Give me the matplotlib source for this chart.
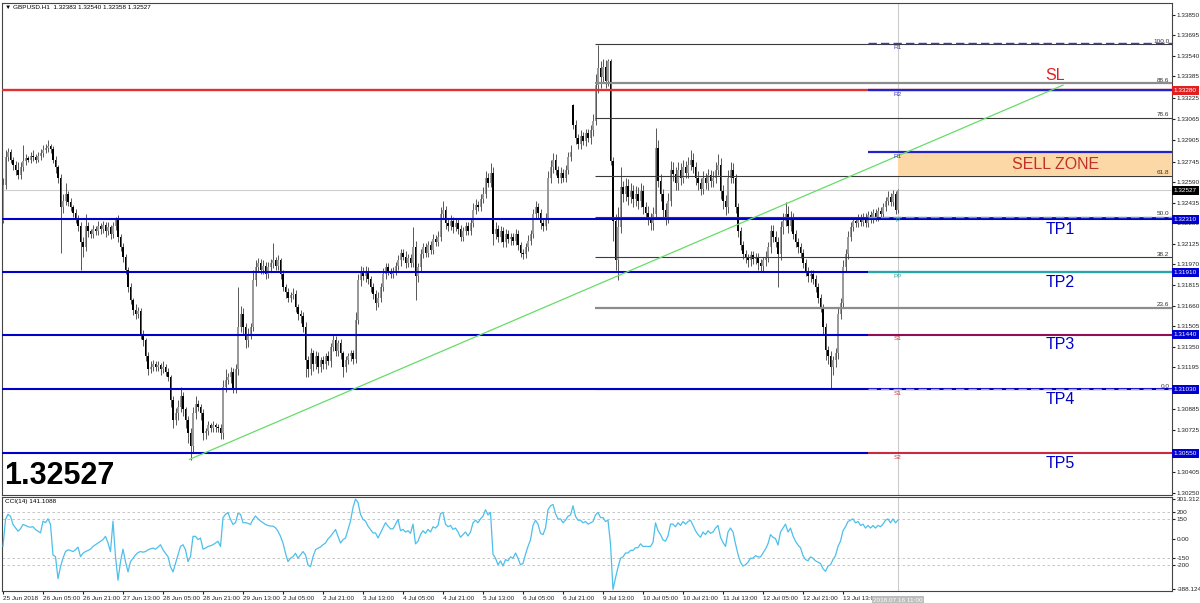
import matplotlib.pyplot as plt
import matplotlib.transforms as mtransforms
import numpy as np

plt.rcParams['font.family'] = ['Liberation Sans', 'DejaVu Sans']

# GBPUSD H1, bar 0 = 25 Jun 2018 00:00; prices in pips above 1.30000
close_pips = [
    257, 278, 282, 276, 272, 268, 264, 270, 275, 277, 276, 279, 278, 276, 279, 281, 283, 285, 286, 284,
    276, 270, 262, 240, 245, 250, 244, 240, 236, 232, 226, 214, 210, 226, 222, 220, 224, 222, 226, 224,
    227, 222, 225, 220, 226, 231, 218, 210, 203, 193, 180, 170, 163, 160, 162, 145, 140, 128, 118, 120,
    122, 120, 121, 118, 120, 116, 112, 95, 80, 85, 90, 98, 88, 80, 70, 60, 85, 92, 90, 85,
    70, 72, 76, 74, 76, 75, 74, 70, 105, 110, 112, 116, 104, 118, 150, 160, 150, 140, 145, 150,
    185, 195, 198, 193, 196, 190, 195, 198, 200, 196, 200, 190, 180, 176, 172, 174, 175, 165, 160, 158,
    150, 125, 118, 130, 122, 128, 120, 125, 122, 128, 124, 135, 140, 132, 138, 130, 120, 125, 128, 130,
    126, 155, 185, 192, 188, 192, 186, 180, 175, 168, 172, 180, 190, 195, 192, 190, 192, 196, 200, 206,
    203, 198, 202, 198, 210, 188, 195, 205, 210, 206, 212, 208, 216, 214, 218, 235, 238, 228, 226, 230,
    225, 228, 224, 218, 222, 226, 222, 228, 238, 242, 240, 246, 250, 262, 258, 266, 220, 224, 218, 222,
    214, 220, 216, 218, 215, 220, 212, 206, 205, 210, 215, 220, 235, 240, 236, 228, 226, 232, 262, 270,
    276, 268, 262, 266, 262, 268, 278, 282, 302, 292, 288, 294, 290, 296, 292, 298, 305, 332, 345, 338,
    346, 335, 350, 275, 230, 200, 225, 255, 250, 256, 248, 252, 246, 250, 245, 252, 240, 236, 232, 228,
    235, 285, 260, 250, 238, 232, 245, 268, 265, 258, 268, 262, 270, 266, 272, 276, 270, 262, 258, 254,
    262, 258, 264, 260, 262, 268, 272, 252, 245, 240, 262, 268, 262, 240, 222, 212, 205, 202, 200, 204,
    201, 203, 198, 196, 200, 203, 210, 222, 218, 214, 205, 225, 230, 235, 226, 232, 220, 214, 210, 206,
    198, 192, 188, 190, 186, 180, 172, 165, 150, 133, 128, 120, 125, 130, 160, 168, 195, 205, 218, 225,
    230, 228, 232, 229, 233, 228, 234, 231, 236, 233, 237, 235, 240, 245, 248, 244, 250, 238.3, 252.7,
]
upper_wick = [
    5, 5, 3, 2, 2, 3, 6, 4, 12, 3, 2, 3, 4, 2, 3, 3, 4, 3, 5, 2,
    2, 3, 2, 3, 5, 8, 2, 3, 2, 3, 2, 3, 4, 9, 3, 2, 3, 2, 4, 2,
    3, 2, 4, 2, 3, 2, 3, 2, 3, 2, 2, 3, 2, 4, 3, 2, 3, 2, 3, 4,
    3, 2, 3, 2, 4, 2, 3, 2, 3, 4, 5, 7, 3, 2, 3, 4, 5, 6, 3, 2,
    3, 2, 3, 2, 3, 2, 2, 3, 5, 8, 3, 4, 3, 4, 30, 6, 4, 3, 4, 3,
    8, 5, 4, 3, 4, 3, 4, 3, 13, 3, 4, 2, 3, 2, 3, 2, 4, 3, 2, 3,
    3, 4, 3, 4, 3, 4, 3, 2, 3, 2, 4, 3, 4, 3, 2, 3, 2, 3, 2, 3,
    3, 6, 5, 4, 3, 4, 3, 2, 3, 3, 4, 3, 4, 3, 3, 2, 3, 3, 4, 3,
    3, 4, 3, 3, 15, 5, 3, 4, 3, 3, 3, 3, 4, 3, 4, 5, 7, 3, 3, 4,
    3, 3, 3, 3, 3, 3, 3, 3, 5, 4, 3, 4, 5, 5, 4, 7, 4, 5, 3, 4,
    3, 4, 3, 3, 3, 4, 3, 2, 3, 3, 4, 3, 4, 5, 3, 3, 3, 4, 5, 6,
    5, 4, 3, 4, 3, 4, 4, 5, 1, 4, 3, 4, 3, 3, 3, 4, 5, 8, 17, 5,
    6, 5, 2, 2, 3, 5, 15, 15, 5, 6, 5, 6, 5, 6, 5, 6, 5, 4, 5, 4,
    5, 15, 6, 5, 4, 5, 6, 7, 6, 5, 6, 5, 6, 5, 6, 7, 5, 4, 5, 4,
    5, 4, 5, 4, 5, 6, 8, 5, 5, 4, 6, 6, 5, 3, 3, 3, 3, 3, 3, 3,
    3, 3, 3, 3, 3, 4, 4, 5, 5, 4, 4, 5, 6, 9, 6, 5, 4, 3, 3, 3,
    3, 3, 3, 3, 3, 3, 3, 3, 2, 3, 3, 4, 3, 4, 5, 4, 5, 4, 4, 4,
    3, 3, 3, 3, 3, 3, 3, 3, 3, 3, 3, 3, 3, 3, 4, 3, 3, 2, 1.3,
]
lower_wick = [
    2, 3, 3, 3, 4, 4, 3, 3, 3, 3, 2, 3, 3, 3, 2, 3, 3, 2, 3, 3,
    3, 4, 4, 34, 4, 3, 3, 3, 3, 4, 4, 21, 7, 3, 4, 3, 3, 3, 3, 4,
    3, 4, 3, 4, 3, 3, 4, 3, 4, 3, 4, 3, 4, 4, 3, 4, 4, 4, 4, 3,
    3, 3, 3, 4, 3, 3, 3, 5, 6, 4, 5, 4, 5, 6, 7, 10, 4, 4, 3, 5,
    5, 4, 3, 3, 3, 4, 3, 4, 4, 4, 3, 4, 4, 4, 4, 4, 5, 6, 5, 4,
    3, 4, 4, 3, 3, 4, 3, 3, 4, 3, 3, 4, 3, 4, 3, 3, 3, 4, 5, 5,
    4, 13, 6, 4, 5, 4, 5, 4, 4, 4, 3, 4, 3, 4, 4, 4, 8, 4, 3, 4,
    4, 3, 3, 4, 3, 4, 4, 4, 4, 5, 3, 3, 3, 4, 3, 3, 3, 3, 3, 4,
    3, 4, 3, 3, 3, 18, 4, 3, 3, 3, 3, 3, 3, 3, 3, 3, 3, 4, 4, 3,
    4, 3, 4, 3, 3, 3, 3, 3, 3, 3, 3, 3, 3, 3, 3, 3, 8, 4, 4, 4,
    4, 4, 3, 4, 3, 3, 4, 3, 4, 3, 3, 3, 3, 3, 4, 4, 4, 3, 4, 4,
    4, 4, 4, 4, 3, 3, 3, 3, 3, 4, 4, 4, 3, 4, 3, 4, 4, 3, 6, 8,
    4, 5, 4, 3, 15, 7, 15, 4, 6, 5, 6, 5, 6, 5, 6, 5, 5, 5, 5, 5,
    5, 4, 5, 5, 5, 5, 4, 4, 5, 5, 5, 5, 4, 4, 4, 4, 4, 5, 5, 5,
    4, 4, 5, 5, 5, 4, 4, 6, 6, 6, 4, 4, 4, 4, 4, 4, 4, 4, 5, 4,
    4, 4, 5, 4, 4, 4, 4, 4, 4, 4, 25, 5, 5, 4, 5, 4, 4, 4, 4, 4,
    4, 4, 4, 4, 4, 4, 4, 4, 5, 8, 6, 17, 6, 5, 4, 4, 4, 4, 4, 3,
    3, 3, 3, 3, 3, 3, 3, 3, 3, 3, 3, 3, 3, 3, 3, 3, 3, 3, 2.5,
]
first_open = 230
gap_open = {228: 317}  # Monday 9 Jul open after the weekend gap

cci = [
    -60, 146, 185, 170, 108, 82, 56, 74, 108, 100, 90, 87, 90, 69, 56, 43, 133, 121, 151, 108,
    -125, -138, -306, -215, -150, -99, -86, -91, -99, -86, -65, -138, -112, -99, -91, -81, -60, -47, -34, -21,
    -8, 17, -34, -99, 133, -138, -318, -176, -81, -176, -254, -176, -150, -125, -107, -99, -104, -99, -86, -78,
    -73, -81, -65, -47, -86, -112, -138, -215, -254, -189, -125, -60, -47, -86, -176, -138, 17, 17, -8, 4,
    -81, -73, -60, -55, -47, -34, -21, -60, 159, 185, 198, 146, 108, 121, 192, 185, 121, 121, 116, 108,
    146, 172, 151, 133, 121, 108, 100, 95, 95, 82, 56, 17, -34, -112, -176, -150, -138, -112, -150, -125,
    -99, -125, -202, -215, -138, -86, -73, -65, -47, -34, -3, 17, 43, 69, 17, -34, -8, 4, 69, 133,
    237, 301.3, 275, 185, 146, 133, 95, 69, 43, 43, 4, 43, 82, 121, 95, 74, 74, 108, 146, 60,
    70, 50, 60, 40, 110, -40, -20, 30, 60, 40, 70, 50, 90, 80, 100, 190, 200, 110, 90, 100,
    70, 80, 50, 10, 30, 50, 20, 50, 120, 140, 120, 150, 170, 220, 180, 200, -120, -150, -200, -170,
    -210, -160, -170, -140, -150, -110, -150, -200, -190, -120, -60, -10, 100, 140, 110, 40, 30, 80, 220, 250,
    260, 190, 150, 150, 120, 140, 170, 180, 250, 170, 140, 140, 120, 130, 110, 120, 130, 180, 200, 160,
    160, 130, 140, -40, -388.1, -300, -220, -150, -140, -110, -110, -90, -90, -70, -70, -40, -60, -60, -60, -60,
    -30, 120, 60, 30, -10, -20, 20, 110, 110, 90, 120, 100, 130, 110, 130, 140, 100, 60, 30, 10,
    50, 30, 60, 40, 50, 80, 100, 10, -30, -60, 50, 80, 50, -40, -120, -180, -210, -200, -180, -150,
    -150, -130, -140, -140, -110, -80, -40, 30, 10, 0, -50, 50, 80, 110, 50, 80, 20, -20, -50, -70,
    -130, -160, -170, -140, -150, -170, -180, -190, -230, -250, -210, -200, -160, -130, -60, -20, 60, 90, 130, 140,
    150, 120, 130, 100, 110, 80, 100, 80, 100, 80, 100, 90, 110, 140, 150, 120, 150, 120, 141.1,
]

time_labels = ['25 Jun 2018', '26 Jun 05:00', '26 Jun 21:00', '27 Jun 13:00', '28 Jun 05:00',
               '28 Jun 21:00', '29 Jun 13:00', '2 Jul 05:00', '2 Jul 21:00', '3 Jul 13:00',
               '4 Jul 05:00', '4 Jul 21:00', '5 Jul 13:00', '6 Jul 05:00', '6 Jul 21:00',
               '9 Jul 13:00', '10 Jul 05:00', '10 Jul 21:00', '11 Jul 13:00', '12 Jul 05:00',
               '12 Jul 21:00', '13 Jul 13:00']

price_ticks = [1.33850, 1.33695, 1.33540, 1.33385, 1.33225, 1.33065, 1.32905, 1.32745, 1.32590,
               1.32435, 1.32280, 1.32125, 1.31970, 1.31815, 1.31660, 1.31505, 1.31350, 1.31195,
               1.30885, 1.30725, 1.30405, 1.30250]

tp_names = ['TP1', 'TP2', 'TP3', 'TP4', 'TP5']
tp_levels = [1.32310, 1.31910, 1.31440, 1.31030, 1.30550]
sl_level = 1.33280
last_price = 1.32527

fib_high, fib_low = 1.33629, 1.31030
fib_ratios = [100.0, 88.6, 78.6, 61.8, 50.0, 38.2, 23.6, 0.0]

pivot_names = ['R1', 'R2', 'R1', 'P', 'PP', 'S1', 'S1', 'S2']
pivot_levels = [1.33637, 1.33280, 1.32816, 1.32330, 1.31910, 1.31440, 1.31030, 1.30550]

trend_bars = [74.6, 424.0]
trend_prices = [1.30503, 1.33320]

# ---- derived OHLC
n = len(close_pips)
c = 1.3 + np.array(close_pips, dtype=float) / 10000
o = np.empty(n)
o[0] = 1.3 + first_open / 10000
o[1:] = c[:-1]
for k, v in gap_open.items():
    o[k] = 1.3 + v / 10000
h = np.maximum(o, c) + np.array(upper_wick) / 10000
l = np.minimum(o, c) - np.array(lower_wick) / 10000
x = np.arange(n)

W, H = 1200, 603
FS = 4.6  # small MT4-like text
fig = plt.figure(figsize=(12, 6.03), dpi=100)


def px_axes(left, top, right, bottom):
    return fig.add_axes([left / W, 1 - bottom / H, (right - left) / W, (bottom - top) / H])


ax = px_axes(2, 3, 1172, 495)
ac = px_axes(2, 497, 1172, 591)
xmax = 467.6
for a in (ax, ac):
    a.set_xlim(-0.4, xmax)
    for s in a.spines.values():
        s.set_color('#444444')
        s.set_linewidth(0.8)
ax.set_ylim(1.302349, 1.33938)

# candles
ax.vlines(x, l, h, color='#3c3c3c', lw=0.6, zorder=2)
body = np.maximum(np.abs(c - o), 0.00002)
bull = c >= o
ax.bar(x[bull], body[bull], bottom=o[bull], width=0.7, color='#9a9a9a', lw=0, zorder=2)
ax.bar(x[~bull], body[~bull], bottom=c[~bull], width=0.7, color='#000000', lw=0, zorder=2)

# last price line and vertical line
ax.axhline(last_price, color='#cfcfcf', lw=0.8, zorder=1)
now_bar = n - 1
for a in (ax, ac):
    a.axvline(now_bar, color='#cccccc', lw=0.8, zorder=1)

# fibonacci retracement
fib_start = 236.8
for r in fib_ratios:
    lv = fib_low + (fib_high - fib_low) * r / 100
    thick = r in (88.6, 23.6)
    ax.hlines(lv, fib_start, xmax, color='#8c8c8c' if thick else '#3a3a3a',
              lw=1.6 if thick else 0.8, zorder=3)
    ax.text(xmax - 1, lv + 0.00004, f'{r:.1f}', fontsize=FS, ha='right', va='bottom',
            color='#333333', zorder=6)

# SL and TP lines
ax.axhline(sl_level, color='#e03030', lw=1.7, zorder=4)
for lv in tp_levels:
    ax.axhline(lv, color='#0000c8', lw=1.5, zorder=4)

# pivot lines from the pivot bar to the right edge
piv_start = 346
piv_styles = [
    dict(color='#3a3acc', lw=1.0, ls=(0, (6, 3))),
    dict(color='#2323c8', lw=1.6, ls='-'),
    dict(color='#2323c8', lw=1.6, ls='-'),
    dict(color='#6aaaaa', lw=1.0, ls=(0, (6, 3))),
    dict(color='#2aa6a6', lw=1.6, ls='-'),
    dict(color='#b01040', lw=1.2, ls='-'),
    dict(color='#c0a0d0', lw=1.0, ls=(0, (6, 3))),
    dict(color='#e03030', lw=1.3, ls='-'),
]
piv_colors = ['#3a3acc', '#3a3acc', '#3a3acc', '#2aa6a6', '#2aa6a6', '#e03030', '#e03030', '#e03030']
for name, lv, st, col in zip(pivot_names, pivot_levels, piv_styles, piv_colors):
    ax.hlines(lv, piv_start, xmax, zorder=5, **st)
    ax.text(now_bar, lv - 0.00012, name, fontsize=FS, color=col, ha='center', va='top', zorder=6)

# sell zone
r618 = fib_low + (fib_high - fib_low) * 0.618
ax.fill_between([now_bar, xmax], r618, pivot_levels[2], color='#fbd8a5', lw=0, zorder=3)
ax.text(421, (r618 + pivot_levels[2]) / 2, 'SELL ZONE', fontsize=11.5, color='#c0302a',
        ha='center', va='center', zorder=7)
ax.text(421, sl_level + 0.00113, 'SL', fontsize=11.5, color='#e02020',
        ha='center', va='center', zorder=7)
for name, lv in zip(tp_names, tp_levels):
    ax.text(423, lv - 0.00075, name, fontsize=11.5, color='#0000c8',
            ha='center', va='center', zorder=7)

# trend line
ax.plot(trend_bars, trend_prices, color='#66dd66', lw=0.9, zorder=5)

# right price scale
ax.yaxis.tick_right()
ax.set_yticks(price_ticks)
ax.set_yticklabels([f'{t:.5f}' for t in price_ticks])
ax.tick_params(axis='y', labelsize=FS, length=2, pad=1.5, colors='#222222')
ax.set_xticks([])
blend = mtransforms.blended_transform_factory(ax.transAxes, ax.transData)
boxes = [(sl_level, '#e02020')] + [(lv, '#0000d0') for lv in tp_levels] + [(last_price, '#000000')]
for lv, col in boxes:
    ax.text(1.0015, lv, f'{lv:.5f}', transform=blend, fontsize=FS, color='white', va='center',
            ha='left', bbox=dict(boxstyle='square,pad=0.3', fc=col, ec='none'), clip_on=False, zorder=8)

# CCI panel
ac.plot(x, cci, color='#4dbfea', lw=0.9, zorder=3)
ac.set_ylim(-400, 317)
for lv in (200, 150, -150, -200):
    ac.axhline(lv, color='#bcbcbc', lw=0.6, ls=(0, (3, 3)), zorder=1)
ac.yaxis.tick_right()
ac.set_yticks([301.3121, 200, 150, 0, -150, -200, -388.1246])
ac.set_yticklabels(['301.3121', '200', '150', '0.00', '-150', '-200', '-388.1246'])
ac.tick_params(axis='y', labelsize=FS, length=2, pad=1.5, colors='#222222')
ac.set_xticks(np.arange(len(time_labels)) * 16)
ac.set_xticklabels(time_labels, ha='left')
ac.tick_params(axis='x', labelsize=FS, length=2, pad=1.5, colors='#222222')
ac.text(now_bar, -0.07, '2018.07.16 11:00',
        transform=mtransforms.blended_transform_factory(ac.transData, ac.transAxes),
        fontsize=FS, color='white', ha='center', va='top',
        bbox=dict(boxstyle='square,pad=0.25', fc='#bdbdbd', ec='none'), clip_on=False, zorder=8)

# header texts
fig.text(5 / W, 1 - 7 / H, '\u25bc GBPUSD.H1  1.32383 1.32540 1.32358 1.32527', fontsize=FS, va='center')
fig.text(5 / W, 1 - 502 / H, 'CCI(14) 141.1088', fontsize=FS, va='center')
fig.text(4 / W, 1 - 476 / H, '1.32527', fontsize=22, fontweight='bold', va='center')

fig.savefig('out.png', dpi=100)
